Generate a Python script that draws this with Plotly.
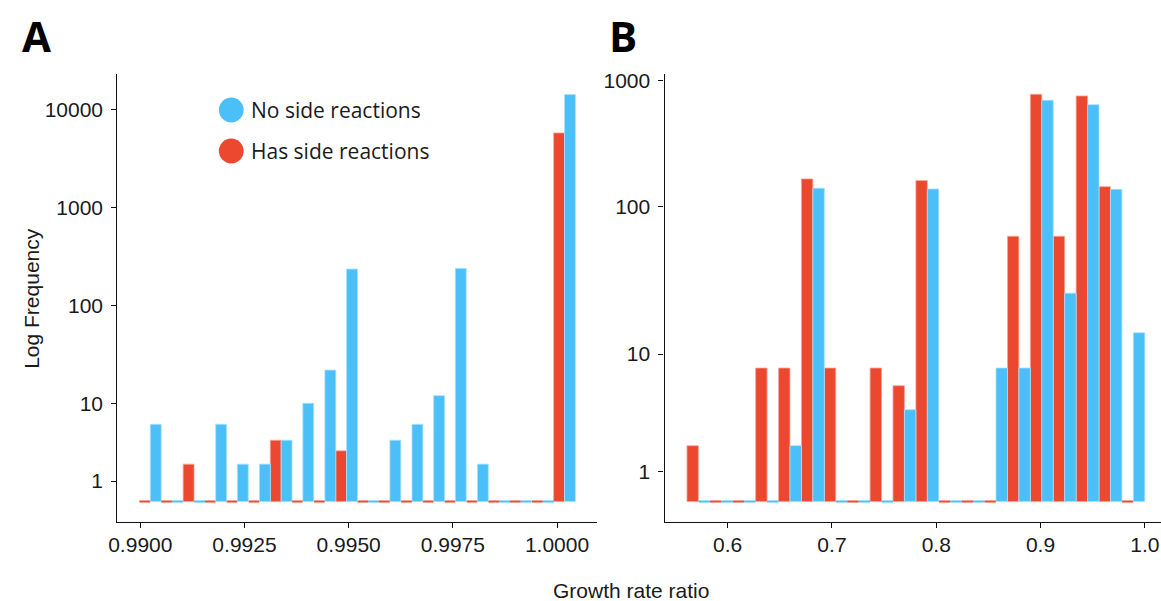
import numpy as np
import plotly.graph_objects as go

# ---------------- data ----------------
# Panel A: bin centres of growth-rate ratio and counts per bin
a_bins = [0.99024, 0.99076, 0.99129, 0.99181, 0.99233, 0.99286, 0.99338, 0.99390,
          0.99443, 0.99495, 0.99547, 0.99599, 0.99652, 0.99704, 0.99756, 0.99809,
          0.99861, 0.99913, 0.99966, 1.00018]
a_has_side = [0, 0, 2, 0, 0, 0, 4, 0, 0, 3, 0, 0, 0, 0, 0, 0, 0, 0, 0, 5830]
a_no_side = [6, 0, 0, 6, 2, 2, 4, 10, 22, 237, 0, 4, 6, 12, 241, 2, 0, 0, 0, 14360]

# Panel B
b_bins = [0.57193, 0.59388, 0.61583, 0.63778, 0.65974, 0.68169, 0.70364, 0.72559,
          0.74754, 0.76949, 0.79144, 0.81339, 0.83534, 0.85729, 0.87924, 0.90120,
          0.92315, 0.94510, 0.96705, 0.98900]
b_has_side = [2, 0, 0, 8, 8, 166, 8, 0, 8, 6, 161, 0, 0, 0, 63, 780, 63, 757, 144, 0]
b_no_side = [0, 0, 0, 0, 2, 140, 0, 0, 0, 4, 138, 0, 0, 8, 8, 699, 26, 645, 137, 14]

# tick labels
y_ticks_a = [1, 10, 100, 1000, 10000]
y_ticks_b = [1, 10, 100, 1000]
x_ticks_a = [0.9900, 0.9925, 0.9950, 0.9975, 1.0000]
x_ticks_a_text = ["0.9900", "0.9925", "0.9950", "0.9975", "1.0000"]
x_ticks_b = [0.6, 0.7, 0.8, 0.9, 1.0]
x_ticks_b_text = ["0.6", "0.7", "0.8", "0.9", "1.0"]

# ---------------- y scale (pseudo-log) ----------------
scale_knots = np.array([0, 1, 10, 100, 1000, 10000, 100000], dtype=float)
scale_pos_a = np.array([0, 20.5, 98.4, 196.0, 294.0, 392.0, 490.0])
scale_pos_b = np.array([0, 30.3, 147.7, 295.3, 421.3, 547.3, 673.3])


def to_axis(counts, pos):
    c = np.asarray(counts, dtype=float)
    return np.interp(np.arcsinh(c / 2), np.arcsinh(scale_knots / 2), pos)


BLUE = "#4BBFF8"
RED = "#EC4830"
BLUE_EDGE = "#A9E0FB"
RED_EDGE = "#F7A69A"
W_A = 0.0002616
W_B = 0.010975

fig = go.Figure()


def add_bars(x, counts, pos, color, edge, offset, width, xa, ya, name):
    fig.add_trace(go.Bar(
        x=x, y=to_axis(counts, pos), offset=offset, width=width,
        marker=dict(color=color,
                    line=dict(color=[color if c == 0 else edge for c in counts],
                              width=[2 if c == 0 else 0.8 for c in counts])),
        xaxis=xa, yaxis=ya, name=name, showlegend=False,
        customdata=counts, hovertemplate="%{x}: %{customdata}<extra>" + name + "</extra>"))


add_bars(a_bins, a_has_side, scale_pos_a, RED, RED_EDGE, -W_A, W_A, "x", "y", "Has side reactions")
add_bars(a_bins, a_no_side, scale_pos_a, BLUE, BLUE_EDGE, 0, W_A, "x", "y", "No side reactions")
add_bars(b_bins, b_has_side, scale_pos_b, RED, RED_EDGE, -W_B, W_B, "x2", "y2", "Has side reactions")
add_bars(b_bins, b_no_side, scale_pos_b, BLUE, BLUE_EDGE, 0, W_B, "x2", "y2", "No side reactions")

axis_common = dict(showgrid=False, zeroline=False, showline=True, linecolor="#111",
                   linewidth=1.4, ticks="outside", ticklen=5, tickwidth=1.3, tickcolor="#111",
                   tickfont=dict(family="Liberation Sans, Arial, sans-serif", size=21, color="#1a1a1a"))

W, H = 1161, 601
fig.update_layout(
    width=W, height=H, barmode="overlay",
    margin=dict(l=0, r=0, t=74, b=79),
    plot_bgcolor="white", paper_bgcolor="white",
    xaxis=dict(domain=[109.3 / W, 592.7 / W], range=[0.989452, 1.000962],
               tickvals=x_ticks_a, ticktext=x_ticks_a_text, anchor="y",
               ticklabelstandoff=-1, **axis_common),
    yaxis=dict(domain=[0, 1], range=[-20.4, 428.0], anchor="x",
               tickvals=list(to_axis(y_ticks_a, scale_pos_a)),
               ticktext=[str(t) for t in y_ticks_a], ticklabelstandoff=4, **axis_common),
    xaxis2=dict(domain=[660.7 / W, 1.0], range=[0.53949, 1.01551],
                tickvals=x_ticks_b, ticktext=x_ticks_b_text, anchor="y2",
                ticklabelstandoff=-1, **axis_common),
    yaxis2=dict(domain=[0, 1], range=[-20.4, 428.0], anchor="x2",
                tickvals=list(to_axis(y_ticks_b, scale_pos_b)),
                ticktext=[str(t) for t in y_ticks_b], ticklabelstandoff=4, **axis_common),
)

PLOT_TOP, PLOT_BOT = 74, 522


def py(ypx):
    return (PLOT_BOT - ypx) / (PLOT_BOT - PLOT_TOP)


def px(xpx):
    return xpx / W


title_font = dict(family="Liberation Sans, Arial, sans-serif", size=21, color="#1a1a1a")
fig.add_annotation(text="Log Frequency", x=px(22), y=py(298), xref="paper", yref="paper",
                   textangle=-90, showarrow=False, font=title_font, xanchor="center", yanchor="middle")
fig.add_annotation(text="Growth rate ratio", x=px(627), y=py(590), xref="paper", yref="paper",
                   showarrow=False, font=title_font, xanchor="center", yanchor="middle")
panel_font = dict(family="Open Sans, Noto Sans, sans-serif", size=42, color="black", weight="bold")
fig.add_annotation(text="<b>A</b>", x=px(28), y=py(36), xref="paper", yref="paper",
                   showarrow=False, font=panel_font, xanchor="center", yanchor="middle")
fig.add_annotation(text="<b>B</b>", x=px(619), y=py(36), xref="paper", yref="paper",
                   showarrow=False, font=panel_font, xanchor="center", yanchor="middle")

# legend (circle keys + labels)
legend_font = dict(family="Open Sans, Noto Sans, sans-serif", size=21, color="#1a1a1a")
for label, color, ycen in [("No side reactions", BLUE, 110), ("Has side reactions", RED, 151)]:
    fig.add_shape(type="circle", xref="paper", yref="paper",
                  x0=px(224 - 12.5), x1=px(224 + 12.5), y0=py(ycen + 12.5), y1=py(ycen - 12.5),
                  fillcolor=color, line=dict(width=0))
    fig.add_annotation(text=label, x=px(242), y=py(ycen), xref="paper", yref="paper",
                       showarrow=False, font=legend_font, xanchor="left", yanchor="middle")

fig.write_html("out.html")
